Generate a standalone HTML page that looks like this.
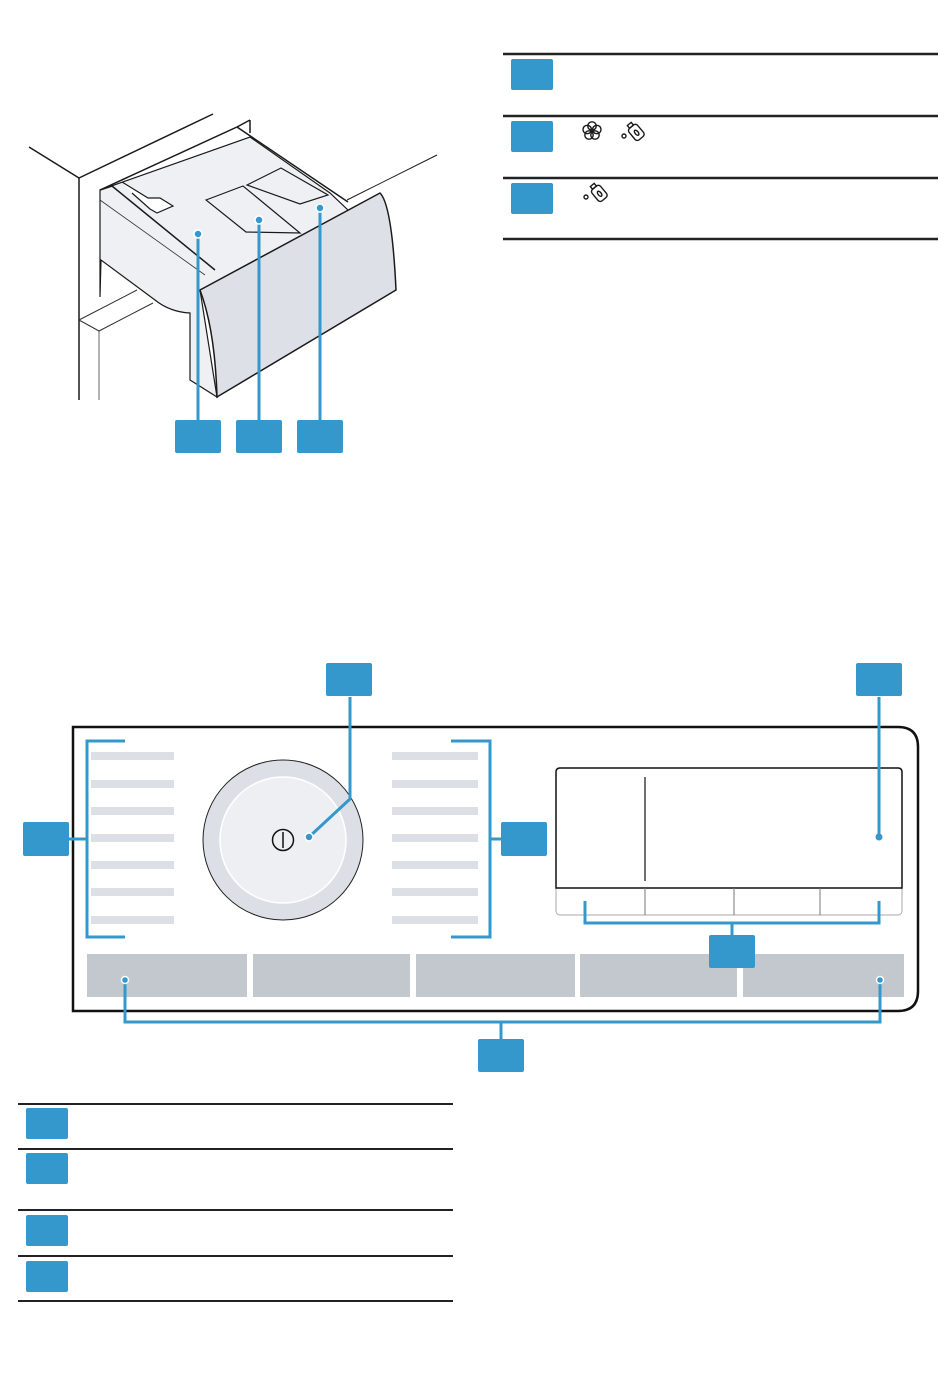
<!DOCTYPE html>
<html><head><meta charset="utf-8"><style>html,body{margin:0;padding:0;background:#fff}svg{display:block}</style></head>
<body>
<svg width="950" height="1392" viewBox="0 0 950 1392" xmlns="http://www.w3.org/2000/svg">
<defs><style>.b{fill:#3498cc}.k{stroke:#1a1a1a;fill:none}.l{stroke:#3498cc;stroke-width:3;fill:none}</style></defs>
<!-- top table -->
<g stroke="#222" stroke-width="2.5">
<line x1="503" y1="54" x2="938" y2="54"/><line x1="503" y1="116" x2="938" y2="116"/>
<line x1="503" y1="178" x2="938" y2="178"/><line x1="503" y1="239" x2="938" y2="239"/></g>
<rect class="b" x="511" y="59" width="42" height="31" rx="2"/>
<rect class="b" x="511" y="121" width="42" height="31" rx="2"/>
<rect class="b" x="511" y="183" width="42" height="31" rx="2"/>
<g class="k" stroke-width="1.4">
<g transform="translate(592,131)">
<circle cx="0" cy="-5" r="4.2"/><circle cx="4.8" cy="-1.5" r="4.2"/><circle cx="3" cy="4" r="4.2"/><circle cx="-3" cy="4" r="4.2"/><circle cx="-4.8" cy="-1.5" r="4.2"/>
</g>
<g transform="translate(636,132) rotate(-40)"><rect x="-5.5" y="-7" width="11" height="15" rx="3"/><rect x="-2.5" y="-10.5" width="5" height="3.5"/><ellipse cx="0" cy="1" rx="1.6" ry="3"/></g><circle cx="624" cy="136" r="2"/>
<g transform="translate(599,193) rotate(-40)"><rect x="-5.5" y="-7" width="11" height="15" rx="3"/><rect x="-2.5" y="-10.5" width="5" height="3.5"/><ellipse cx="0" cy="1" rx="1.6" ry="3"/></g><circle cx="586" cy="197" r="2"/>
</g>
<!-- drawer drawing -->
<g class="k" stroke-width="1.5">
<line x1="29" y1="147" x2="79" y2="178"/><line x1="79" y1="178" x2="213" y2="114"/>
<line x1="79" y1="178" x2="79" y2="400"/>
<line x1="100" y1="190" x2="237" y2="127"/><line x1="237" y1="127" x2="250" y2="120"/><line x1="250" y1="120" x2="250" y2="133"/>
<line x1="237" y1="127" x2="348" y2="202"/>
<line x1="347" y1="200" x2="437" y2="155" stroke-width="1"/>
</g>
<line x1="99" y1="331" x2="99" y2="400" stroke="#999" stroke-width="1.5"/>
<path d="M79 320 L137 290 M79 320 L99 331 L153 303" stroke="#333" stroke-width="1" fill="none"/>
<path d="M100 190 L100 297 L101 260 L155 300 Q170 312 190 313 L190 380 L217 397 L200 290 L350 212 L330 193 L250 137 L100 190 Z" fill="#eef0f3" stroke="#1a1a1a" stroke-width="1.2"/>
<path d="M100 190 L112 186 L215 270" stroke="#1a1a1a" stroke-width="1.5" fill="none"/>
<path d="M100 200 L205 275" stroke="#333" stroke-width="0.8" fill="none"/>
<path d="M122 182 L148 198 L160 198 L173 206 L157 213 L150 209 L132 193" fill="#fff" stroke="#1a1a1a" stroke-width="1.2"/>
<path d="M206 200 L243 186 L300 233 L246 232 Z M247 185 L281 168 L328 195 L300 204 Z" fill="#eef0f3" stroke="#1a1a1a" stroke-width="1.2"/>
<path d="M200 290 L380 193 Q392 205 396 290 L217 397 Q215 330 200 290 Z" fill="#dde0e6" stroke="#1a1a1a" stroke-width="1.5"/>
<g class="l"><line x1="198" y1="234" x2="198" y2="422"/><line x1="259" y1="220" x2="259" y2="422"/><line x1="320" y1="208" x2="320" y2="422"/></g>
<g class="b" stroke="#fff" stroke-width="1.5"><circle cx="198" cy="234" r="4"/><circle cx="259" cy="220" r="4"/><circle cx="320" cy="208" r="4"/></g>
<rect class="b" x="175" y="420" width="46" height="33" rx="2"/><rect class="b" x="236" y="420" width="46" height="33" rx="2"/><rect class="b" x="297" y="420" width="46" height="33" rx="2"/>
<!-- control panel -->
<path d="M73 727 L898 727 Q918 727 918 747 L918 991 Q918 1011 898 1011 L73 1011 Z" fill="#fff" stroke="#111" stroke-width="2.5"/>
<g fill="#dcdfe5">
<rect x="91" y="752" width="83" height="8"/><rect x="91" y="780" width="83" height="8"/><rect x="91" y="807" width="83" height="8"/><rect x="91" y="834" width="83" height="8"/><rect x="91" y="861" width="83" height="8"/><rect x="91" y="888" width="83" height="8"/><rect x="91" y="916" width="83" height="8"/>
<rect x="392" y="752" width="86" height="8"/><rect x="392" y="780" width="86" height="8"/><rect x="392" y="807" width="86" height="8"/><rect x="392" y="834" width="86" height="8"/><rect x="392" y="861" width="86" height="8"/><rect x="392" y="888" width="86" height="8"/><rect x="392" y="916" width="86" height="8"/>
</g>
<circle cx="283" cy="840" r="80" fill="#dcdfe6" stroke="#222" stroke-width="1"/>
<circle cx="283" cy="840" r="63" fill="#eeeff2" stroke="#fff" stroke-width="1.5"/>
<circle cx="283" cy="840" r="10.5" fill="none" stroke="#111" stroke-width="1.5"/><line x1="283" y1="832" x2="283" y2="848" stroke="#111" stroke-width="1.5"/>
<!-- display -->
<rect x="556" y="768" width="346" height="147" rx="4" fill="#fff" stroke="#aaa" stroke-width="1"/>
<path d="M556 888 L556 772 Q556 768 560 768 L898 768 Q902 768 902 772 L902 888 Z" fill="#fff" stroke="#111" stroke-width="1.5"/>
<line x1="645" y1="777" x2="645" y2="881" stroke="#111" stroke-width="1.2"/>
<g stroke="#777" stroke-width="1"><line x1="645" y1="888" x2="645" y2="915"/><line x1="734" y1="888" x2="734" y2="915"/><line x1="820" y1="888" x2="820" y2="915"/></g>
<g class="l">
<path d="M125 741 L87 741 L87 937 L125 937 M87 839 L69 839"/>
<path d="M451 741 L490 741 L490 937 L451 937 M490 839 L501 839"/>
<path d="M309 837 L350 799 L350 697"/>
<path d="M879 837 L879 697"/>
</g>
<circle cx="309" cy="837" r="4" class="b" stroke="#fff" stroke-width="1.5"/>
<circle cx="879" cy="837" r="3.5" class="b"/>
<rect class="b" x="23" y="822" width="46" height="34" rx="2"/>
<rect class="b" x="501" y="822" width="46" height="34" rx="2"/>
<rect class="b" x="326" y="663" width="46" height="33" rx="2"/>
<rect class="b" x="856" y="663" width="46" height="33" rx="2"/>
<path class="l" d="M585 901 L585 923 L879 923 L879 901 M732 923 L732 936"/>
<g fill="#c3c7ce"><rect x="87" y="954" width="160" height="43"/><rect x="253" y="954" width="157" height="43"/><rect x="416" y="954" width="159" height="43"/><rect x="580" y="954" width="157" height="43"/><rect x="743" y="954" width="161" height="43"/></g>
<rect class="b" x="709" y="935" width="46" height="33" rx="2"/>
<path class="l" d="M125 980 L125 1022 L880 1022 L880 980 M501 1022 L501 1040"/>
<g class="b" stroke="#fff" stroke-width="1.5"><circle cx="125" cy="980" r="3.5"/><circle cx="880" cy="980" r="3.5"/></g>
<rect class="b" x="478" y="1039" width="46" height="33" rx="2"/>
<!-- bottom table -->
<g stroke="#222" stroke-width="2">
<line x1="18" y1="1104" x2="453" y2="1104"/><line x1="18" y1="1149" x2="453" y2="1149"/><line x1="18" y1="1210" x2="453" y2="1210"/><line x1="18" y1="1256" x2="453" y2="1256"/><line x1="18" y1="1301" x2="453" y2="1301"/></g>
<rect class="b" x="26" y="1108" width="42" height="31" rx="2"/><rect class="b" x="26" y="1153" width="42" height="31" rx="2"/><rect class="b" x="26" y="1215" width="42" height="31" rx="2"/><rect class="b" x="26" y="1261" width="42" height="31" rx="2"/>
</svg>
</body></html>
